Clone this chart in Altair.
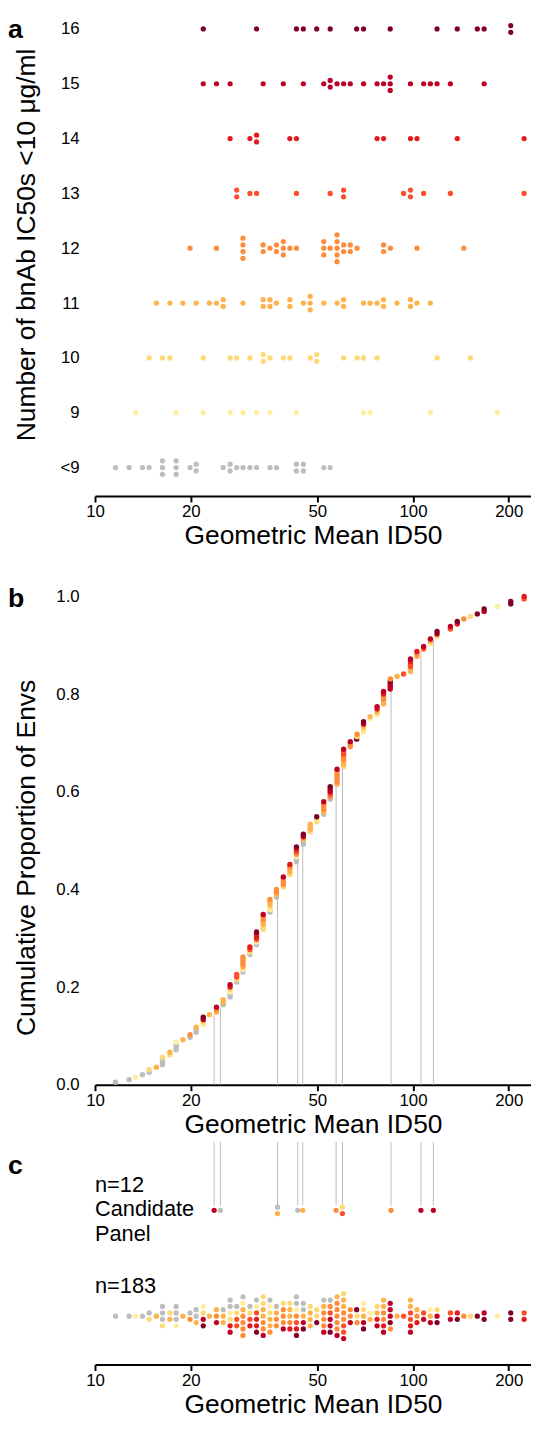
import altair as alt
import numpy as np
import pandas as pd

FONT = "Liberation Sans"

categories = ["<9", "9", "10", "11", "12", "13", "14", "15", "16"]
palette = ["#bdbdbd", "#ffeda0", "#fed976", "#feb24c", "#fd8d3c",
           "#fc4e2a", "#e31a1c", "#bd0026", "#800026"]
x_ticks = [10, 20, 50, 100, 200]
y_ticks_b = [0.0, 0.2, 0.4, 0.6, 0.8, 1.0]

# Geometric mean ID50 of each Env, grouped by number of bnAbs with IC50 < 10 ug/ml
id50_lt9 = [11.6, 12.8, 14.1, 14.8, 16.3, 16.3, 16.3, 18.0, 18.0, 18.0, 19.9, 20.8, 20.8,
            25.3, 26.6, 26.6, 27.9, 29.2, 30.7, 32.2, 35.5, 37.2, 43.0, 43.0, 45.2, 45.2,
            52.4, 54.9]
id50_9 = [13.4, 18.0, 21.9, 26.6, 29.2, 32.2, 35.5, 43.0, 69.9, 73.3, 113.4, 184.1]
id50_10 = [14.8, 16.3, 17.2, 21.9, 26.6, 27.9, 30.7, 33.8, 33.8, 35.5, 39.1, 41.0, 47.5,
           49.8, 49.8, 60.5, 66.7, 69.9, 77.1, 119.0, 151.5]
id50_11 = [15.6, 17.2, 18.9, 20.8, 22.9, 24.1, 25.3, 25.3, 29.2, 33.8, 33.8, 35.5, 35.5,
           37.2, 41.0, 41.0, 45.2, 47.5, 47.5, 47.5, 52.4, 57.7, 60.5, 60.5, 69.9, 73.3,
           77.1, 80.8, 80.8, 89.1, 98.2, 98.2, 102.9, 113.4]
id50_12 = [19.9, 24.1, 29.2, 29.2, 29.2, 29.2, 33.8, 33.8, 35.5, 37.2, 37.2, 39.1, 39.1,
           39.1, 41.0, 43.0, 52.4, 52.4, 52.4, 54.9, 57.7, 57.7, 57.7, 57.7, 57.7, 60.5,
           60.5, 63.5, 63.5, 66.7, 80.8, 80.8, 84.9, 102.9, 144.5]
id50_13 = [27.9, 27.9, 30.7, 32.2, 43.0, 54.9, 60.5, 60.5, 93.4, 98.2, 98.2, 108.0, 131.1,
           223.6]
id50_14 = [26.6, 30.7, 32.2, 32.2, 41.0, 43.0, 77.1, 80.8, 98.2, 102.9, 137.8, 223.6]
id50_15 = [21.9, 24.1, 26.6, 33.8, 39.1, 45.2, 52.4, 54.9, 54.9, 57.7, 60.5, 63.5, 69.9,
           77.1, 80.8, 84.8, 84.8, 84.8, 98.2, 108.0, 113.4, 119.0, 131.1, 167.4]
id50_16 = [21.9, 32.2, 43.0, 45.2, 49.8, 54.9, 66.5, 69.9, 84.8, 119.0, 137.8, 159.3,
           167.4, 202.9, 202.9]

# n=12 candidate panel
cand_id50 = [23.7, 24.8, 37.5, 37.5, 43.4, 45.0, 57.3, 60.0, 60.0, 85.3, 105.9, 115.9]
cand_group = ["15", "<9", "<9", "11", "<9", "11", "12", "10", "13", "12", "15", "15"]

groups = [id50_lt9, id50_9, id50_10, id50_11, id50_12, id50_13, id50_14, id50_15, id50_16]

# ---------------- layout helpers ----------------
W = 441
X_MAX = 235
PX_DEC = W / (np.log10(X_MAX) - 1.0)
DOT = 6.8          # dot pitch in px for the swarms
TITLE_FS = 26.7
LABEL_FS = 17


def stack(vals, step):
    vals = np.asarray(vals, float)
    bins = np.round((np.log10(vals) - 1.0) * PX_DEC / step).astype(int)
    off = np.zeros(len(vals))
    order = np.argsort(vals, kind="stable")
    for b in np.unique(bins):
        members = [i for i in order if bins[i] == b]
        n = len(members)
        for k, i in enumerate(members):
            off[i] = k - (n - 1) / 2.0
    return bins, off


cscale = alt.Scale(domain=categories, range=palette)
xscale = alt.Scale(type="log", domain=[10, X_MAX], nice=False)


def xaxis():
    return alt.Axis(values=x_ticks, format="d", title="Geometric Mean ID50", grid=False,
                    domainColor="black", domainWidth=2, tickColor="black", tickWidth=2,
                    tickSize=6, labelPadding=2, titlePadding=3, labelFlush=False,
                    labelFontSize=LABEL_FS, titleFontSize=TITLE_FS)


def label(t, x, y, size=27, weight="bold", **kw):
    return alt.Chart(pd.DataFrame({"t": [t]})).mark_text(
        font=FONT, fontSize=size, fontWeight=weight, align="left", color="black", **kw
    ).encode(text="t:N", x=alt.value(x), y=alt.value(y))


# ---------------- panel a ----------------
HA = 484.5
ROW_PX = 55.46
y_lo = -0.5193
y_hi = y_lo + HA / ROW_PX
recs = []
for gi, (g, vals) in enumerate(zip(categories, groups)):
    _, off = stack(vals, DOT)
    for v, o in zip(vals, off):
        recs.append({"group": g, "id50": v, "ya": gi - o * DOT / ROW_PX})
dfa = pd.DataFrame(recs)

label_expr = "[" + ",".join("'%s'" % c for c in categories) + "][datum.value]"
pa = alt.Chart(dfa).mark_circle(size=28, opacity=1).encode(
    x=alt.X("id50:Q", scale=xscale, axis=xaxis()),
    y=alt.Y("ya:Q", scale=alt.Scale(domain=[y_lo, y_hi], nice=False, zero=False),
            axis=alt.Axis(values=list(range(9)), labelExpr=label_expr,
                          title="Number of bnAb IC50s <10 μg/ml", domain=False, ticks=False,
                          tickSize=0, grid=False, labelPadding=16, labelFontSize=LABEL_FS,
                          titleFontSize=TITLE_FS, titleX=-61, titleY=230,
                          titleBaseline="alphabetic", titleAlign="center")),
    color=alt.Color("group:N", scale=cscale, legend=None),
)
panel_a = alt.layer(pa, label("a", -88, 0, baseline="top")).properties(width=W, height=HA)

# ---------------- panel b ----------------
dfb = dfa[["group", "id50"]].sort_values("id50", kind="stable").reset_index(drop=True)
N = len(dfb)
dfb["cum"] = (np.arange(N) + 1) / N
allv = np.sort(dfb["id50"].values)
dfcand = pd.DataFrame({"group": cand_group, "id50": cand_id50})
dfcand["cum"] = [np.searchsorted(allv, v, side="right") / N for v in cand_id50]
dfcand["base"] = 0.0

HB = 494
yb_scale = alt.Scale(domain=[0, 1], nice=False)
yb_axis = alt.Axis(values=y_ticks_b, format=".1f", title="Cumulative Proportion of Envs",
                   domain=False, ticks=False, tickSize=0, grid=False, labelPadding=16,
                   labelFontSize=LABEL_FS, titleFontSize=TITLE_FS, titleX=-61, titleY=264,
                   titleBaseline="alphabetic", titleAlign="center")
rb = alt.Chart(dfcand).mark_rule(color="#bdbdbd", strokeWidth=1).encode(
    x=alt.X("id50:Q", scale=xscale, axis=xaxis()),
    y=alt.Y("base:Q", scale=yb_scale, axis=yb_axis),
    y2="cum:Q",
)
pb = alt.Chart(dfb).mark_circle(size=30, opacity=1).encode(
    x=alt.X("id50:Q", scale=xscale, axis=xaxis()),
    y=alt.Y("cum:Q", scale=yb_scale, axis=yb_axis),
    color=alt.Color("group:N", scale=cscale, legend=None),
)
panel_b = alt.layer(rb, pb, label("b", -88, -10, baseline="top")).properties(width=W, height=HB)

# ---------------- panel c ----------------
HC = 225
SW_Y = 176
_, off = stack(dfb["id50"].values, DOT)
dfs = dfb.copy()
dfs["yc"] = SW_Y + off * 6.5
_, coff = stack(cand_id50, 0.5)
dfcand["yc"] = 69 + coff * 6.5

yc_scale = alt.Scale(domain=[0, HC], reverse=True, nice=False, zero=False)
rc = alt.Chart(dfcand).mark_rule(color="#bdbdbd", strokeWidth=1).encode(
    x=alt.X("id50:Q", scale=xscale, axis=xaxis()),
    y=alt.value(0), y2=alt.value(64),
)
pc_cand = alt.Chart(dfcand).mark_circle(size=28, opacity=1).encode(
    x=alt.X("id50:Q", scale=xscale, axis=xaxis()),
    y=alt.Y("yc:Q", scale=yc_scale, axis=None),
    color=alt.Color("group:N", scale=cscale, legend=None),
)
pc_all = alt.Chart(dfs).mark_circle(size=28, opacity=1).encode(
    x=alt.X("id50:Q", scale=xscale, axis=xaxis()),
    y=alt.Y("yc:Q", scale=yc_scale, axis=None),
    color=alt.Color("group:N", scale=cscale, legend=None),
)
panel_c = alt.layer(
    rc, pc_cand, pc_all,
    label("c", -88, 11, baseline="top"),
    label("n=12\nCandidate\nPanel", 0, 43, size=22, weight="normal", baseline="middle",
          lineBreak="\n", lineHeight=25),
    label("n=183", 0, 146, size=22, weight="normal", baseline="middle"),
).properties(width=W, height=HC)

chart = alt.vconcat(alt.vconcat(panel_a, panel_b, spacing=36), panel_c, spacing=3,
                    padding=0)
chart = chart.configure(font=FONT).configure_view(stroke=None).configure_axis(
    labelFont=FONT, titleFont=FONT, labelColor="black", titleColor="black",
    titleFontWeight="normal")

chart.save("out.html", embed_options={"renderer": "svg", "actions": False})
